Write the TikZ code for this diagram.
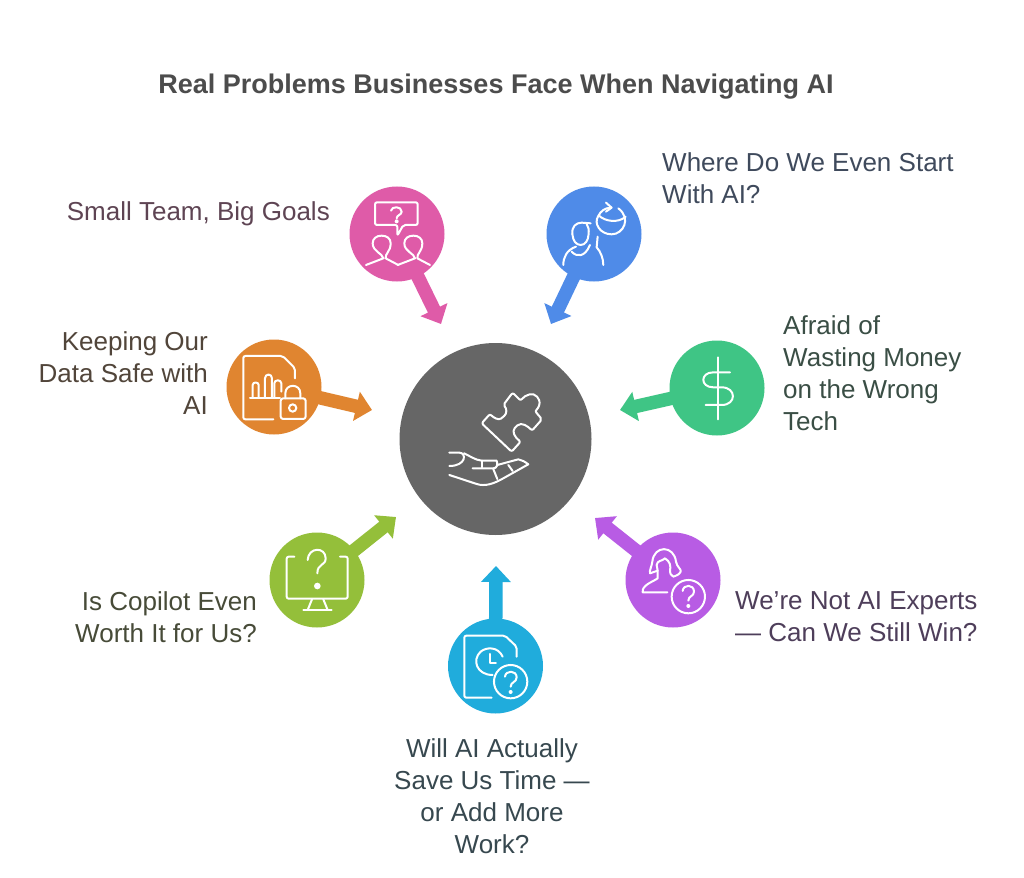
\documentclass[tikz,border=0pt]{standalone}
\usepackage{fontspec}
\setmainfont{Liberation Sans}
\usetikzlibrary{arrows.meta}
\definecolor{pinkc}{HTML}{DF5BA8}
\definecolor{bluec}{HTML}{4F8BE8}
\definecolor{orangec}{HTML}{E08530}
\definecolor{greenc}{HTML}{3FC585}
\definecolor{purplec}{HTML}{B85CE4}
\definecolor{limec}{HTML}{94BF3A}
\definecolor{cyanc}{HTML}{20ACDC}
\definecolor{grayc}{HTML}{666666}
\definecolor{plumtext}{HTML}{5E4453}
\definecolor{slatetext}{HTML}{3F4A5C}
\definecolor{browntext}{HTML}{51453A}
\definecolor{foresttext}{HTML}{3A4E45}
\definecolor{violettext}{HTML}{4E3E5A}
\definecolor{olivetext}{HTML}{474B38}
\definecolor{tealtext}{HTML}{37484F}
\tikzset{
  hub/.style={circle,fill=grayc,minimum size=192pt,inner sep=0pt},
  spot/.style={circle,minimum size=95pt,inner sep=0pt},
  pointer/.style={line width=13.5pt,-{Triangle[length=16pt,width=29pt]}},
  caption/.style={font=\fontsize{26}{32}\selectfont,inner sep=0pt},
  iconline/.style={draw=white,line width=2pt,line cap=round,line join=round},
  zoomed/.style={x=0.3333pt,y=-0.3333pt},
}
\begin{document}
\begin{tikzpicture}[x=1pt,y=-1pt]
  \useasboundingbox[fill=white] (0,0) rectangle (1024,877);
  \node[font=\bfseries\fontsize{27}{32}\selectfont,text=black!70,inner sep=0pt] (title) at (496,87) {Real Problems Businesses Face When Navigating AI};

  \coordinate (pinktip) at (441,324);
  \coordinate (bluetip) at (551,324);
  \coordinate (orangetip) at (372,410);
  \coordinate (greentip) at (620,410);
  \coordinate (purpletip) at (595,518);
  \coordinate (limetip) at (396,517);
  \coordinate (cyantip) at (496,566);

  \node[hub] (centre) at (495.5,439) {};
  \node[spot,fill=pinkc] (pink) at (397,234) {};
  \node[spot,fill=bluec] (blue) at (594,234) {};
  \node[spot,fill=orangec] (orange) at (274,387) {};
  \node[spot,fill=greenc] (green) at (717,388) {};
  \node[spot,fill=purplec] (purple) at (673,580) {};
  \node[spot,fill=limec] (lime) at (317,580) {};
  \node[spot,fill=cyanc] (cyan) at (495.5,666) {};

  \draw[pointer,pinkc] (pink.center) -- (pinktip);
  \draw[pointer,bluec] (blue.center) -- (bluetip);
  \draw[pointer,orangec] (orange.center) -- (orangetip);
  \draw[pointer,greenc] (green.center) -- (greentip);
  \draw[pointer,purplec] (purple.center) -- (purpletip);
  \draw[pointer,limec] (lime.center) -- (limetip);
  \draw[pointer,cyanc] (cyan.center) -- (cyantip);

  \node[caption,anchor=east,text=plumtext] (teamtext) at (330,214) {Small Team, Big Goals};
  \node[caption,anchor=east,align=right,text=browntext] (datatext) at (208,373) {Keeping Our\\Data Safe with\\AI};
  \node[caption,anchor=east,align=right,text=olivetext] (copilottext) at (257,617) {Is Copilot Even\\Worth It for Us?};
  \node[caption,align=center,text=tealtext] (timetext) at (492,796) {Will AI Actually\\Save Us Time ---\\or Add More\\Work?};
  \node[caption,anchor=west,align=left,text=violettext] (expertstext) at (735,617) {We’re Not AI Experts\\--- Can We Still Win?};
  \node[caption,anchor=west,align=left,text=foresttext] (moneytext) at (783,373) {Afraid of\\Wasting Money\\on the Wrong\\Tech};
  \node[caption,anchor=west,align=left,text=slatetext] (starttext) at (662,178) {Where Do We Even Start\\With AI?};

  \begin{scope}[shift={(340,170)},zoomed] % pink and blue icons
    \draw[iconline,rounded corners=2pt] (172,197) -- (172,165) -- (105,165) -- (105,97) -- (233,97) -- (233,165) -- (190,165) -- cycle;
    \draw[iconline] (153,122) .. controls (155,108) and (185,108) .. (185,125) .. controls (185,135) and (170,135) .. (170,145);
    \fill[white] (170,154) circle[radius=6];
    \foreach \dx in {0,95}
      \draw[iconline,xshift=\dx*0.3333pt] (78,285) -- (130,265) .. controls (128,250) and (98,245) .. (98,220) .. controls (98,205) and (110,197) .. (125,197) .. controls (140,197) and (152,205) .. (152,220) .. controls (152,245) and (135,250) .. (137,265) -- (175,285);
    \draw[iconline] (697,192) .. controls (695,170) and (708,158) .. (725,158) -- (752,160);
    \draw[iconline] (740,162) .. controls (746,170) and (747,180) .. (746,192) .. controls (745,212) and (735,225) .. (722,225) .. controls (708,225) and (699,212) .. (697,192);
    \draw[iconline] (670,285) .. controls (670,262) and (680,240) .. (708,230);
    \draw[iconline] (695,245) .. controls (710,262) and (735,262) .. (750,225);
    \draw[iconline] (773,200) -- (770,232) .. controls (782,245) and (790,265) .. (790,285);
    \draw[iconline] (835,115) .. controls (875,145) and (850,193) .. (815,193) .. controls (780,193) and (760,160) .. (775,138) .. controls (782,123) and (795,114) .. (812,113);
    \draw[iconline] (798,98) -- (815,113) -- (798,125);
    \draw[iconline] (776,136) .. controls (795,155) and (835,160) .. (857,140);
  \end{scope}

  \begin{scope}[shift={(210,330)},zoomed] % orange and grey icons
    \draw[iconline,rounded corners=2pt] (190,268) -- (100,268) -- (100,78) -- (218,78) -- (255,115) -- (255,145);
    \draw[iconline] (120,203) -- (210,203);
    \draw[iconline] (128,203) -- (128,165) .. controls (128,155) and (146,155) .. (146,165) -- (146,203);
    \draw[iconline] (165,203) -- (165,145) .. controls (165,130) and (186,130) .. (186,145) -- (186,203);
    \draw[iconline] (193,203) -- (193,160) .. controls (193,148) and (214,148) .. (214,160) -- (214,185);
    \draw[iconline,rounded corners=2.5pt] (212,205) rectangle (287,267);
    \draw[iconline] (226,205) -- (226,190) .. controls (226,160) and (271,160) .. (271,190) -- (271,205);
    \draw[iconline] (248,234) circle[radius=11];
    % puzzle piece
    \draw[iconline,rounded corners=2pt] (815,280) -- (840,252) .. controls (850,262) and (865,272) .. (878,262) .. controls (892,250) and (890,235) .. (880,225) -- (908,188) -- (932,212) .. controls (945,195) and (970,185) .. (985,205) .. controls (992,220) and (985,235) .. (975,243) -- (996,268) -- (966,302) .. controls (955,290) and (935,275) .. (918,290) .. controls (905,305) and (915,322) .. (932,335) -- (905,365) -- cycle;
    % hand
    \draw[iconline] (718,368) -- (748,368) .. controls (770,368) and (770,408) .. (718,408);
    \draw[iconline] (762,370) .. controls (780,378) and (795,390) .. (815,392) -- (860,392) .. controls (865,405) and (860,415) .. (850,415) -- (788,415);
    \draw[iconline] (815,392) -- (815,412);
    \draw[iconline] (862,405) -- (925,388) .. controls (935,390) and (945,395) .. (955,403) -- (880,445) .. controls (850,462) and (825,470) .. (800,462) -- (718,435);
    \draw[iconline] (850,417) -- (862,447);
    \draw[iconline] (895,405) -- (908,423);
  \end{scope}

  \begin{scope}[shift={(260,510)},zoomed] % lime and cyan icons
    \draw[iconline,rounded corners=2pt] (103,140) -- (80,140) -- (80,266) -- (263,266) -- (263,140) -- (240,140);
    \draw[iconline] (156,268) -- (143,300);
    \draw[iconline] (190,268) -- (203,300);
    \draw[iconline] (130,300) -- (215,300);
    \draw[iconline] (143,150) .. controls (145,110) and (197,110) .. (197,145) .. controls (197,168) and (172,160) .. (172,190);
    \fill[white] (172,228) circle[radius=10];
    \draw[iconline,rounded corners=2pt] (695,563) -- (613,563) -- (613,377) -- (735,377) -- (770,410) -- (770,440);
    \draw[iconline] (728,440) .. controls (715,410) and (680,410) .. (662,425) .. controls (635,450) and (650,495) .. (698,495);
    \draw[iconline] (690,432) -- (690,458) -- (708,458);
    \draw[iconline] (752,515) circle[radius=50];
    \draw[iconline] (735,500) .. controls (737,480) and (770,480) .. (770,502) .. controls (770,518) and (752,515) .. (752,530);
    \fill[white] (752,546) circle[radius=6];
  \end{scope}

  \begin{scope}[shift={(590,330)},zoomed] % green and purple icons
    \draw[iconline] (383,82) -- (383,268);
    \draw[iconline] (420,127) -- (370,127) .. controls (330,127) and (330,172) .. (370,172) -- (395,172) .. controls (440,172) and (440,225) .. (395,225) -- (347,225);
    \draw[iconline] (232,787) -- (158,787) .. controls (155,765) and (190,755) .. (203,745) -- (203,722);
    \draw[iconline] (203,722) -- (180,730) .. controls (178,720) and (185,710) .. (187,695) .. controls (192,645) and (252,645) .. (258,695) .. controls (260,710) and (275,718) .. (272,725) .. controls (268,735) and (255,738) .. (250,740) .. controls (242,735) and (240,730) .. (240,725) .. controls (243,705) and (240,695) .. (225,685) .. controls (215,695) and (202,690) .. (200,705) -- (203,722);
    \draw[iconline] (295,800) circle[radius=50];
    \draw[iconline] (278,783) .. controls (280,762) and (312,762) .. (312,785) .. controls (312,800) and (295,797) .. (295,812);
    \fill[white] (295,828) circle[radius=6];
  \end{scope}
\end{tikzpicture}
\end{document}
